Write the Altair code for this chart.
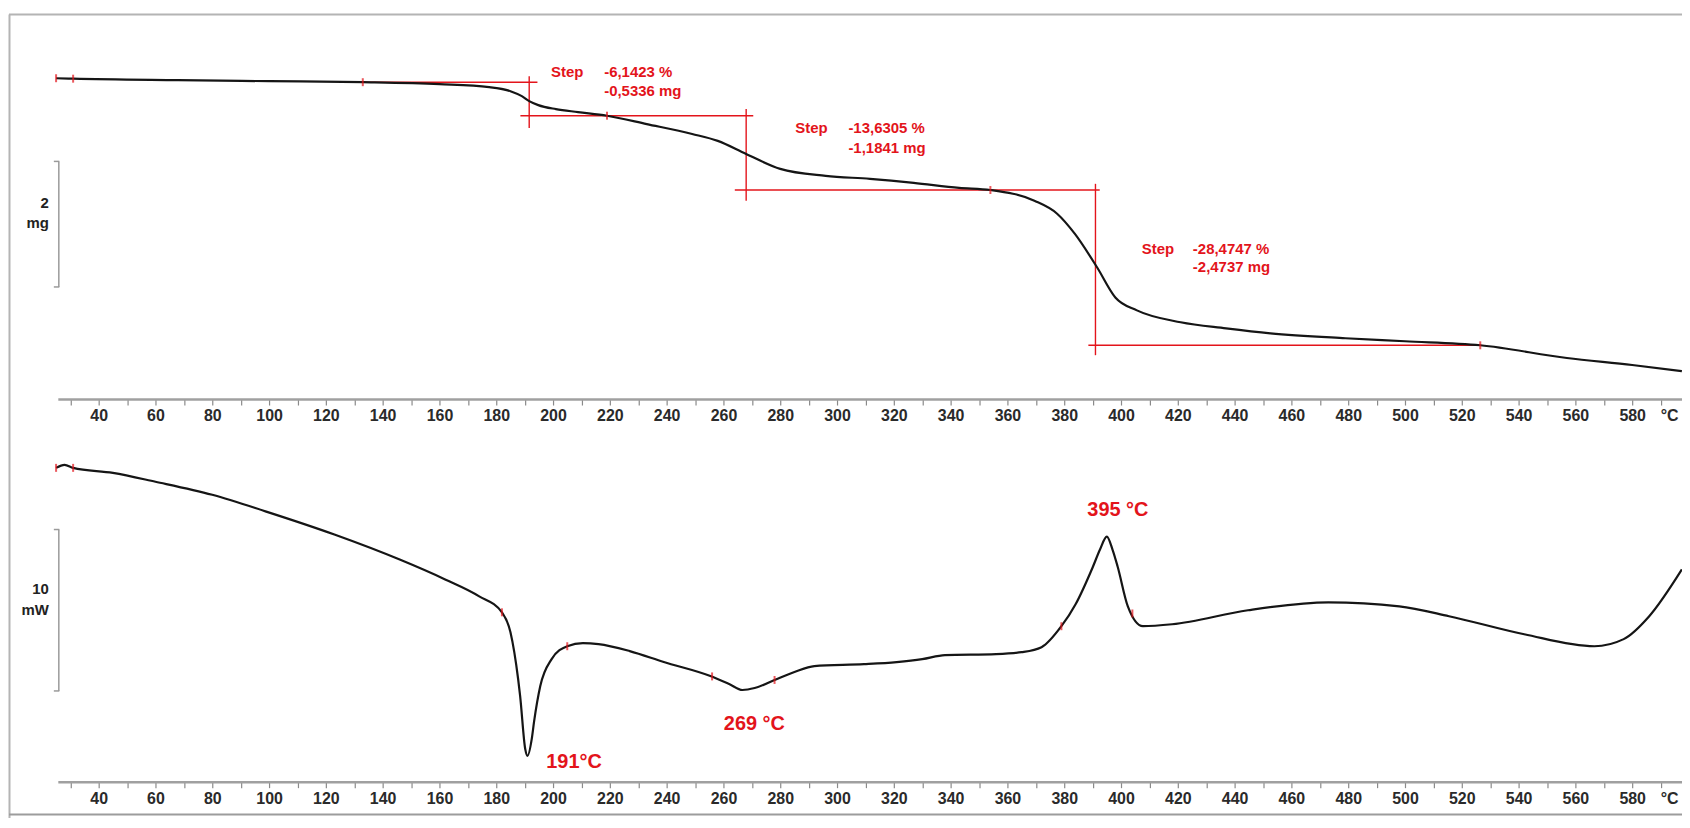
import altair as alt
import pandas as pd

RED = "#e3141b"
INK = "#151515"
AXC = "#a0a0a0"
FONT = "Liberation Sans"

# ---------------- data ----------------
# TG curve: temperature (°C) and mass (mg)
tga_T = [25, 31, 68, 100, 133, 160, 177.5, 185, 189, 191.6, 194.8, 201, 208.8, 219, 233,
         249, 258, 268, 280, 296, 311.6, 327, 343, 354, 369.5, 377.5, 383.7, 391.6, 398,
         405.6, 421, 437, 452.6, 479, 500, 526.5, 557, 580, 597.5]
tga_mg = [8.663, 8.656, 8.632, 8.616, 8.600, 8.568, 8.521, 8.457, 8.378, 8.298, 8.235, 8.171,
          8.124, 8.066, 7.933, 7.775, 7.665, 7.457, 7.219, 7.108, 7.060, 6.997, 6.917, 6.882,
          6.711, 6.505, 6.187, 5.648, 5.171, 4.965, 4.775, 4.679, 4.600, 4.521, 4.473, 4.409,
          4.206, 4.095, 3.997]

# DSC curve: temperature (°C) and heat flow (mW)
dsc_T = [25, 28, 31, 45, 60, 80, 99, 123, 146, 162, 174, 182, 185, 187.7, 188.4, 190.2, 191,
         192.5, 193.3, 195.5, 199.5, 205, 210.5, 216, 227, 239, 255.4, 262, 266.7, 271, 278,
         285, 292, 309.5, 321, 330, 338, 356, 365, 372, 379, 384, 390, 392.6, 395, 397, 398.8,
         402.4, 407.7, 418, 444.7, 473, 498, 515.5, 542, 566.7, 577, 586, 597.5]
dsc_mW = [0.12, 0.31, 0.12, -0.19, -0.74, -1.55, -2.59, -4.01, -5.56, -6.79, -7.84, -8.83,
          -10.06, -12.96, -14.0, -17.3, -17.72, -16.67, -15.62, -13.40, -11.73, -10.93, -10.74,
          -10.80, -11.23, -11.91, -12.78, -13.27, -13.64, -13.52, -13.02, -12.53, -12.16,
          -12.04, -11.91, -11.73, -11.48, -11.42, -11.30, -10.99, -9.69, -8.33, -6.05, -4.94,
          -4.14, -4.94, -5.99, -8.46, -9.69, -9.57, -8.70, -8.21, -8.46, -9.07, -10.19, -10.93,
          -10.49, -9.07, -6.17]

# Step evaluation (horizontal levels, mg) and their extents (°C)
step_level = [8.600, 8.0664, 6.8823, 4.4086]
step_h_from = [133, 188.5, 264, 388.5]
step_h_to = [194.5, 270.5, 392.5, 526.5]
step_v_T = [191.6, 268, 391]
step_v_top = [8.695, 8.171, 6.981]
step_v_bot = [7.870, 6.711, 4.251]

step_word = ["Step", "Step", "Step"]
step_word_T = [205, 291, 413]
step_pct = ["-6,1423 %", "-13,6305 %", "-28,4747 %"]
step_mg_txt = ["-0,5336 mg", "-1,1841 mg", "-2,4737 mg"]
step_txt_T = [218, 304, 425.3]
step_line1_mg = [8.759, 7.870, 5.949]
step_line2_mg = [8.457, 7.552, 5.648]

tga_mark_T = [25, 31, 133, 219, 354, 526.5]
tga_mark_mg = [8.663, 8.656, 8.600, 8.0664, 6.8823, 4.4086]
dsc_mark_T = [25, 31, 182, 205, 256, 278, 379, 404]
dsc_mark_mW = [0.12, 0.12, -8.83, -10.93, -12.80, -13.02, -9.69, -8.90]

peak_label = ["191°C", "269 °C", "395 °C"]
peak_T = [207.4, 270.9, 398.9]
peak_mW = [-18.09, -15.74, -2.47]

# scale bars
tga_bar = [5.338, 7.338]          # 2 mg
dsc_bar = [-13.70, -3.70]         # 10 mW
tga_bar_txt = ["2", "mg"]
tga_bar_txt_mg = [6.68, 6.36]
dsc_bar_txt = ["10", "mW"]
dsc_bar_txt_mW = [-7.41, -8.70]

UNIT_POS = 593
tick_values = list(range(30, 600, 10)) + [UNIT_POS]

# ---------------- layout ----------------
W, H = 1630, 769
xs = alt.Scale(domain=[25.61, 597.54], nice=False, zero=False)
ys_tga = alt.Scale(domain=[4.0, 8.6], range=[356.8, 67.0], nice=False, zero=False)
ys_dsc = alt.Scale(domain=[-20.0, 1.0], range=[780.0, 439.8], nice=False, zero=False)


def x_axis(offset):
    return alt.Axis(
        values=tick_values,
        labelExpr=f"datum.value == {UNIT_POS} ? '°C' : (datum.value % 20 == 0 ? format(datum.value, 'd') : '')",
        tickOpacity={"condition": {"test": f"datum.value == {UNIT_POS}", "value": 0}, "value": 1},
        orient="bottom", offset=offset, title=None, grid=False,
        domainColor=AXC, domainWidth=2.5, tickColor="#8a8a8a", tickSize=6, tickWidth=1.2,
        labelFont=FONT, labelFontWeight="bold", labelFontSize=16, labelColor="#2a2a2a",
        labelPadding=3, labelOverlap=False, labelFlush=False, labelBound=False,
    )


NOAX = None

tga_df = pd.DataFrame({"T": tga_T, "m": tga_mg})
dsc_df = pd.DataFrame({"T": dsc_T, "q": dsc_mW})

tga_line = alt.Chart(tga_df).mark_line(color=INK, strokeWidth=2.2, interpolate="monotone").encode(
    x=alt.X("T:Q", scale=xs, axis=x_axis(-384)),
    y=alt.Y("m:Q", scale=ys_tga, axis=NOAX),
)
dsc_line = alt.Chart(dsc_df).mark_line(color=INK, strokeWidth=2.2, interpolate="monotone").encode(
    x=alt.X("T:Q", scale=xs, axis=x_axis(0)),
    y=alt.Y("q:Q", scale=ys_dsc, axis=NOAX),
)

h_df = pd.DataFrame({"a": step_h_from, "b": step_h_to, "m": step_level})
step_h = alt.Chart(h_df).mark_rule(color=RED, strokeWidth=1.4).encode(
    x=alt.X("a:Q", scale=xs, axis=NOAX), x2="b:Q",
    y=alt.Y("m:Q", scale=ys_tga, axis=NOAX),
)
v_df = pd.DataFrame({"T": step_v_T, "top": step_v_top, "bot": step_v_bot})
step_v = alt.Chart(v_df).mark_rule(color=RED, strokeWidth=1.4).encode(
    x=alt.X("T:Q", scale=xs, axis=NOAX),
    y=alt.Y("top:Q", scale=ys_tga, axis=NOAX), y2="bot:Q",
)

txt_style = dict(font=FONT, fontWeight="bold", fontSize=15, color=RED, baseline="middle")
w_df = pd.DataFrame({"T": step_word_T, "m": step_line1_mg, "t": step_word})
step_w = alt.Chart(w_df).mark_text(align="center", **txt_style).encode(
    x=alt.X("T:Q", scale=xs, axis=NOAX), y=alt.Y("m:Q", scale=ys_tga, axis=NOAX), text="t:N")
p_df = pd.DataFrame({"T": step_txt_T, "m": step_line1_mg, "t": step_pct})
step_p = alt.Chart(p_df).mark_text(align="left", **txt_style).encode(
    x=alt.X("T:Q", scale=xs, axis=NOAX), y=alt.Y("m:Q", scale=ys_tga, axis=NOAX), text="t:N")
g_df = pd.DataFrame({"T": step_txt_T, "m": step_line2_mg, "t": step_mg_txt})
step_g = alt.Chart(g_df).mark_text(align="left", **txt_style).encode(
    x=alt.X("T:Q", scale=xs, axis=NOAX), y=alt.Y("m:Q", scale=ys_tga, axis=NOAX), text="t:N")

tm_df = pd.DataFrame({"T": tga_mark_T, "m": tga_mark_mg})
tga_marks = alt.Chart(tm_df).mark_tick(color=RED, orient="vertical", size=8, thickness=2).encode(
    x=alt.X("T:Q", scale=xs, axis=NOAX), y=alt.Y("m:Q", scale=ys_tga, axis=NOAX))
dm_df = pd.DataFrame({"T": dsc_mark_T, "q": dsc_mark_mW})
dsc_marks = alt.Chart(dm_df).mark_tick(color=RED, orient="vertical", size=8, thickness=2).encode(
    x=alt.X("T:Q", scale=xs, axis=NOAX), y=alt.Y("q:Q", scale=ys_dsc, axis=NOAX))

pk_df = pd.DataFrame({"T": peak_T, "q": peak_mW, "t": peak_label})
peaks = alt.Chart(pk_df).mark_text(font=FONT, fontWeight="bold", fontSize=20, color=RED,
                                   align="center", baseline="middle").encode(
    x=alt.X("T:Q", scale=xs, axis=NOAX), y=alt.Y("q:Q", scale=ys_dsc, axis=NOAX), text="t:N")

# scale bars (2 mg, 10 mW)
BAR = "#9a9a9a"
tb_df = pd.DataFrame({"a": [tga_bar[1]], "b": [tga_bar[0]]})
tga_barv = alt.Chart(tb_df).mark_rule(color=BAR, strokeWidth=1.5).encode(
    x=alt.value(1), y=alt.Y("a:Q", scale=ys_tga, axis=NOAX), y2="b:Q")
tbe_df = pd.DataFrame({"m": tga_bar})
tga_bare = alt.Chart(tbe_df).mark_rule(color=BAR, strokeWidth=1.5).encode(
    x=alt.value(-4), x2=alt.value(1.5), y=alt.Y("m:Q", scale=ys_tga, axis=NOAX))
db_df = pd.DataFrame({"a": [dsc_bar[1]], "b": [dsc_bar[0]]})
dsc_barv = alt.Chart(db_df).mark_rule(color=BAR, strokeWidth=1.5).encode(
    x=alt.value(1), y=alt.Y("a:Q", scale=ys_dsc, axis=NOAX), y2="b:Q")
dbe_df = pd.DataFrame({"q": dsc_bar})
dsc_bare = alt.Chart(dbe_df).mark_rule(color=BAR, strokeWidth=1.5).encode(
    x=alt.value(-4), x2=alt.value(1.5), y=alt.Y("q:Q", scale=ys_dsc, axis=NOAX))

bar_txt = dict(font=FONT, fontWeight="bold", fontSize=15, color="#222222", align="right",
               baseline="middle")
tbt_df = pd.DataFrame({"m": tga_bar_txt_mg, "t": tga_bar_txt})
tga_bart = alt.Chart(tbt_df).mark_text(**bar_txt).encode(
    x=alt.value(-9), y=alt.Y("m:Q", scale=ys_tga, axis=NOAX), text="t:N")
dbt_df = pd.DataFrame({"q": dsc_bar_txt_mW, "t": dsc_bar_txt})
dsc_bart = alt.Chart(dbt_df).mark_text(**bar_txt).encode(
    x=alt.value(-9), y=alt.Y("q:Q", scale=ys_dsc, axis=NOAX), text="t:N")

# window frame
frame_df = pd.DataFrame({"k": [0]})
frame_left = alt.Chart(frame_df).mark_rule(color="#b4b4b4", strokeWidth=2).encode(
    x=alt.value(-48.5), y=alt.value(-1), y2=alt.value(H + 40))
frame_top = alt.Chart(frame_df).mark_rule(color="#b4b4b4", strokeWidth=2).encode(
    x=alt.value(-49), x2=alt.value(W + 10), y=alt.value(-1))
frame_bottom = alt.Chart(frame_df).mark_rule(color="#9c9c9c", strokeWidth=2).encode(
    x=alt.value(-49), x2=alt.value(W + 10), y=alt.value(H + 33))

chart = alt.layer(
    frame_left, frame_top, frame_bottom,
    step_h, step_v, tga_line, tga_marks, step_w, step_p, step_g,
    dsc_line, dsc_marks, peaks,
    tga_barv, tga_bare, dsc_barv, dsc_bare, tga_bart, dsc_bart,
).resolve_scale(y="independent").resolve_axis(x="independent", y="independent").properties(
    width=W, height=H,
    padding={"left": 50, "top": 6, "right": 0, "bottom": 35},
    autosize=alt.AutoSizeParams(type="none"),
    background="white",
).configure_view(stroke=None)

chart.save("out.html", embed_options={"renderer": "svg", "actions": False})
